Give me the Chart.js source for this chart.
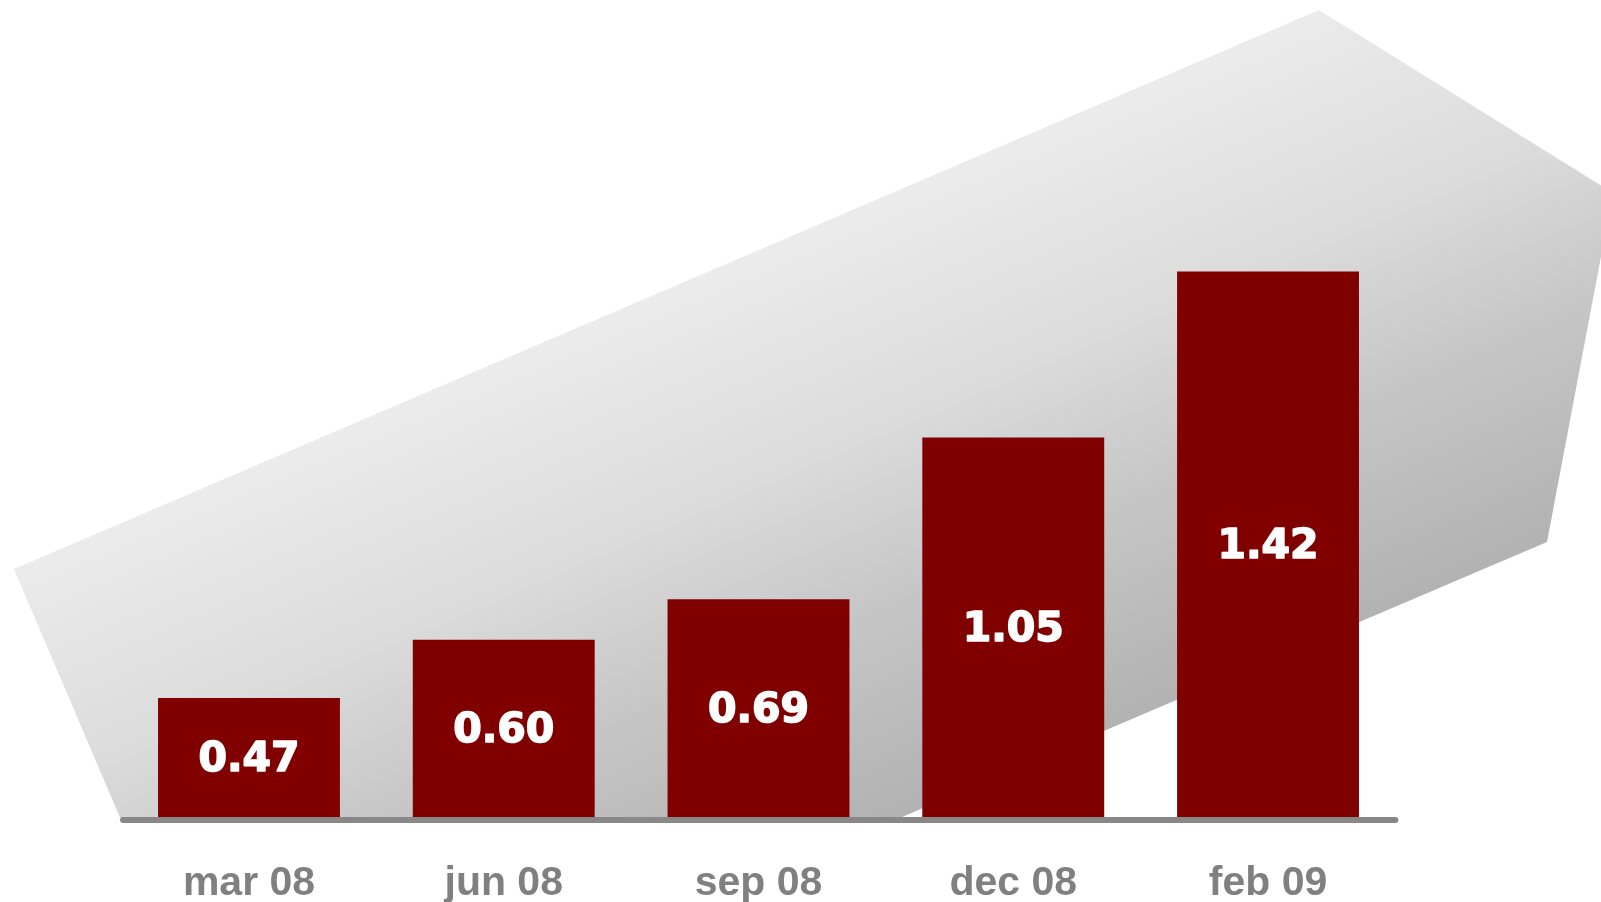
<!DOCTYPE html>
<html>
<head>
<meta charset="utf-8">
<script src="https://cdn.jsdelivr.net/npm/chart.js@4.4.0/dist/chart.umd.min.js"></script>
<style>
  html, body { margin: 0; padding: 0; background: #ffffff; }
  canvas { display: block; }
</style>
</head>
<body>
<canvas id="myChart" width="1601" height="902"></canvas>
<script>
// values
const periods = ['mar 08', 'jun 08', 'sep 08', 'dec 08', 'feb 09'];
const eps = [0.47, 0.60, 0.69, 1.05, 1.42];

// big grey arrow behind the bars (pure decoration)
const arrowShape = {
  id: 'arrowShape',
  beforeDatasetsDraw(chart) {
    const ctx = chart.ctx;
    ctx.save();
    ctx.beginPath();
    ctx.moveTo(14, 569);
    ctx.lineTo(1319, 10);
    ctx.lineTo(1613, 193);
    ctx.lineTo(1547, 542);
    ctx.lineTo(888, 823);
    ctx.lineTo(121, 820);
    ctx.closePath();
    const g = ctx.createLinearGradient(14, 569, 241, 1100);
    g.addColorStop(0, '#ebebeb');
    g.addColorStop(0.35, '#dcdcdc');
    g.addColorStop(0.65, '#c6c6c6');
    g.addColorStop(1, '#b2b2b2');
    ctx.fillStyle = g;
    ctx.fill();
    ctx.restore();
  }
};

// base line + white numbers inside the bars
const barLabels = {
  id: 'barLabels',
  afterDatasetsDraw(chart) {
    const ctx = chart.ctx;
    const area = chart.chartArea;
    ctx.save();
    ctx.strokeStyle = '#888888';
    ctx.lineWidth = 6;
    ctx.lineCap = 'round';
    ctx.beginPath();
    ctx.moveTo(area.left + 1.5, area.bottom + 3);
    ctx.lineTo(area.right, area.bottom + 3);
    ctx.stroke();

    ctx.fillStyle = '#ffffff';
    ctx.strokeStyle = '#ffffff';
    ctx.lineWidth = 1.6;
    ctx.lineJoin = 'round';
    ctx.font = 'bold 41px "DejaVu Sans"';
    ctx.textAlign = 'center';
    ctx.textBaseline = 'middle';
    chart.getDatasetMeta(0).data.forEach((bar, i) => {
      // bars start below the visible axis (y min is not 0), so clip the base
      const bottom = Math.min(bar.base, area.bottom);
      const txt = eps[i].toFixed(2);
      const y = (bar.y + bottom) / 2 + 3;
      ctx.fillText(txt, bar.x, y);
      ctx.strokeText(txt, bar.x, y);
    });
    ctx.restore();
  }
};

const ctx = document.getElementById('myChart').getContext('2d');
const chart = new Chart(ctx, {
  type: 'bar',
  data: {
    labels: periods,
    datasets: [{
      data: eps,
      backgroundColor: '#800000',
      borderWidth: 0,
      categoryPercentage: 1,
      barPercentage: 0.714
    }]
  },
  options: {
    responsive: false,
    animation: false,
    devicePixelRatio: 1,
    layout: { padding: { left: 121.6, right: 205.6, top: 11, bottom: 0 } },
    plugins: {
      legend: { display: false },
      tooltip: { enabled: false }
    },
    scales: {
      x: {
        grid: { display: false, drawTicks: false },
        border: { display: false },
        ticks: {
          color: '#808080',
          padding: 42,
          font: { family: '"Liberation Sans", Arial', weight: 'bold', size: 41 }
        },
        afterFit: s => { s.height = 85; }
      },
      y: {
        display: false,
        min: 0.205,
        max: 2.0
      }
    }
  },
  plugins: [arrowShape, barLabels]
});
</script>
</body>
</html>
